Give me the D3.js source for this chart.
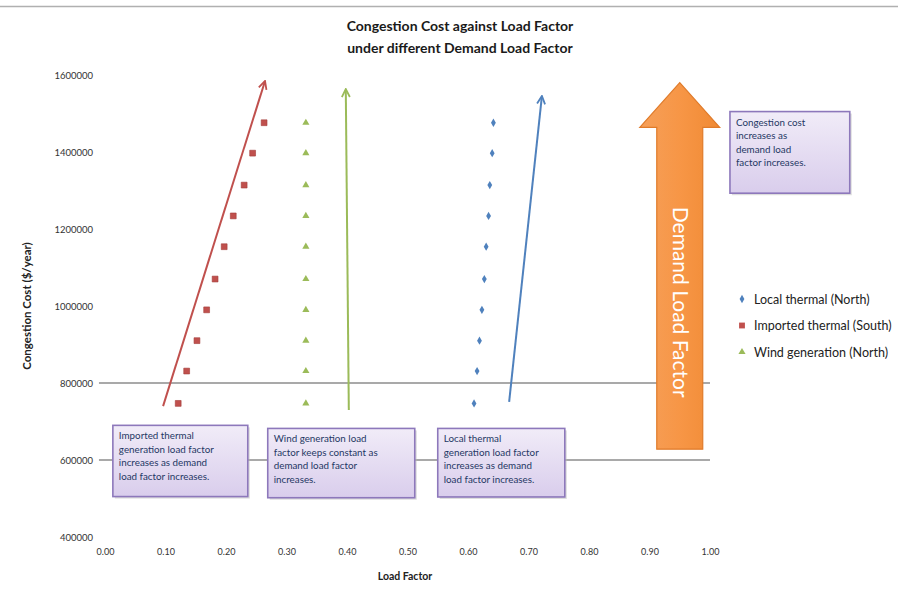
<!DOCTYPE html>
<html><head><meta charset="utf-8">
<script src="https://cdn.jsdelivr.net/npm/d3@7"></script>
<style>
body{margin:0;background:#fff;}
svg{display:block;font-family:Lato,"Open Sans",sans-serif;}
</style></head>
<body><svg id="c" width="898" height="592"></svg>
<script>
// ---- data ----
const titleLines = ["Congestion Cost against Load Factor", "under different Demand Load Factor"];
const xTicks = [0, 0.1, 0.2, 0.3, 0.4, 0.5, 0.6, 0.7, 0.8, 0.9, 1.0];
const yTicks = [400000, 600000, 800000, 1000000, 1200000, 1400000, 1600000];
const seriesNames = ["Local thermal (North)", "Imported thermal (South)", "Wind generation (North)"];
const congestionCost = [747000, 831000, 910000, 990000, 1070000, 1154000, 1234000, 1314000, 1397000, 1476000];
const localThermalLF = [0.610, 0.615, 0.619, 0.623, 0.627, 0.630, 0.634, 0.636, 0.640, 0.642];
const importedThermalLF = [0.121, 0.135, 0.152, 0.168, 0.182, 0.197, 0.212, 0.230, 0.244, 0.263];
const windLF = [0.332, 0.332, 0.332, 0.332, 0.332, 0.332, 0.332, 0.332, 0.332, 0.332];
// trend arrows [x0, y0, x1, y1] in data units
const trendArrows = [
  {series: 1, from: [0.096, 740000], to: [0.264, 1582000]},
  {series: 2, from: [0.403, 730000], to: [0.398, 1561000]},
  {series: 0, from: [0.668, 751000], to: [0.722, 1543000]}
];
const refLines = [800000, 600000];
const notes = [
  {x: 0.013, y: 690000, w: 0.223, h: 185000, lines: ["Imported thermal", "generation load factor", "increases as demand", "load factor increases."]},
  {x: 0.269, y: 682000, w: 0.243, h: 180000, lines: ["Wind generation load", "factor keeps constant as", "demand load factor", "increases."]},
  {x: 0.550, y: 682000, w: 0.210, h: 178000, lines: ["Local thermal", "generation load factor", "increases as demand", "load factor increases."]},
  {x: 1.033, y: 1505000, w: 0.198, h: 212000, lines: ["Congestion cost", "increases as", "demand load", "factor increases."]}
];
const bigArrow = {x: 0.950, half: 0.066, shaftHalf: 0.038, tip: 1580000, headBase: 1464000, bottom: 628000, label: "Demand Load Factor"};
const xTitle = "Load Factor";
const yTitle = "Congestion Cost ($/year)";
const colors = ["#4f81bd", "#c0504d", "#9bbb59"];

// ---- scales ----
const svg = d3.select("#c");
const x = d3.scaleLinear().domain([0, 1]).range([105, 710]);
const y = d3.scaleLinear().domain([400000, 1600000]).range([537, 75]);

// top border
svg.append("line").attr("x1", 0).attr("x2", 898).attr("y1", 6.5).attr("y2", 6.5)
  .attr("stroke", "#b0b0b0").attr("stroke-width", 1.5);

// title
svg.append("g").selectAll("text").data(titleLines).join("text")
  .attr("x", 460).attr("y", (d, i) => 31 + i * 22).attr("text-anchor", "middle")
  .attr("font-size", 14).attr("font-weight", "bold").attr("fill", "#1a1a1a").text(d => d);

// y axis
const yAxis = svg.append("g").attr("transform", "translate(95,0)")
  .call(d3.axisLeft(y).tickValues(yTicks).tickSize(0).tickPadding(2).tickFormat(d3.format("d")));
yAxis.select(".domain").remove();
yAxis.selectAll("text").attr("font-size", 9.5).attr("fill", "#333").attr("font-family", "Lato,sans-serif");

// x axis
const xAxis = svg.append("g").attr("transform", "translate(0,546)")
  .call(d3.axisBottom(x).tickValues(xTicks).tickSize(0).tickPadding(3).tickFormat(d3.format(".2f")));
xAxis.select(".domain").remove();
xAxis.selectAll("text").attr("font-size", 9).attr("fill", "#333").attr("font-family", "Lato,sans-serif");

// axis titles
svg.append("text").attr("x", 405).attr("y", 580).attr("text-anchor", "middle")
  .attr("font-size", 10.5).attr("font-weight", "bold").attr("fill", "#222").text(xTitle);
svg.append("text").attr("transform", `translate(31,${y(1000000)}) rotate(-90)`).attr("text-anchor", "middle")
  .attr("font-size", 11.5).attr("font-weight", "bold").attr("fill", "#222").text(yTitle);

// reference lines
svg.append("g").selectAll("line").data(refLines).join("line")
  .attr("x1", x(-0.01)).attr("x2", x(1.0)).attr("y1", d => y(d)).attr("y2", d => y(d))
  .attr("stroke", "#8c8c8c").attr("stroke-width", 1.6);

// defs: markers & gradients
const defs = svg.append("defs");
colors.forEach((c, i) => {
  defs.append("marker").attr("id", "ah" + i).attr("viewBox", "0 0 10 10").attr("refX", 8).attr("refY", 5)
    .attr("markerWidth", 5).attr("markerHeight", 5).attr("orient", "auto")
    .append("path").attr("d", "M1,1 L9,5 L1,9").attr("fill", "none").attr("stroke", c).attr("stroke-width", 1.8);
});
const g1 = defs.append("linearGradient").attr("id", "boxg").attr("x1", 0).attr("y1", 0).attr("x2", 0).attr("y2", 1);
g1.append("stop").attr("offset", "0%").attr("stop-color", "#f1ecf8");
g1.append("stop").attr("offset", "100%").attr("stop-color", "#d9cdec");
const g2 = defs.append("linearGradient").attr("id", "arrg").attr("x1", 0).attr("y1", 0).attr("x2", 1).attr("y2", 0);
g2.append("stop").attr("offset", "0%").attr("stop-color", "#f6a05a");
g2.append("stop").attr("offset", "50%").attr("stop-color", "#f79646");
g2.append("stop").attr("offset", "100%").attr("stop-color", "#f08a34");

// trend arrows
svg.append("g").selectAll("line").data(trendArrows).join("line")
  .attr("x1", d => x(d.from[0])).attr("y1", d => y(d.from[1]))
  .attr("x2", d => x(d.to[0])).attr("y2", d => y(d.to[1]))
  .attr("stroke", d => colors[d.series]).attr("stroke-width", 2)
  .attr("marker-end", d => `url(#ah${d.series})`);

// points
const sq = d3.symbol().type(d3.symbolSquare).size(34);
const tri = d3.symbol().type(d3.symbolTriangle).size(22);
const dia = d3.symbol().type(d3.symbolDiamond).size(20);
svg.append("g").selectAll("path").data(congestionCost).join("path")
  .attr("transform", (d, i) => `translate(${x(importedThermalLF[i])},${y(d)})`)
  .attr("d", sq).attr("fill", colors[1]).attr("stroke", "#a33c39").attr("stroke-width", 0.6);
svg.append("g").selectAll("path").data(congestionCost).join("path")
  .attr("transform", (d, i) => `translate(${x(windLF[i])},${y(d)})`)
  .attr("d", tri).attr("fill", colors[2]);
svg.append("g").selectAll("path").data(congestionCost).join("path")
  .attr("transform", (d, i) => `translate(${x(localThermalLF[i])},${y(d)})`)
  .attr("d", dia).attr("fill", colors[0]);

// note boxes
const nb = svg.append("g").selectAll("g").data(notes).join("g");
nb.append("rect").attr("x", d => x(d.x) + 2).attr("y", d => y(d.y) + 2)
  .attr("width", d => x(d.x + d.w) - x(d.x)).attr("height", d => y(d.y - d.h) - y(d.y))
  .attr("fill", "#bbb").attr("opacity", 0.5);
nb.append("rect").attr("x", d => x(d.x)).attr("y", d => y(d.y))
  .attr("width", d => x(d.x + d.w) - x(d.x)).attr("height", d => y(d.y - d.h) - y(d.y))
  .attr("fill", "url(#boxg)").attr("stroke", "#8d78bb").attr("stroke-width", 1.6);
nb.each(function(d) {
  d3.select(this).selectAll("text").data(d.lines).join("text")
    .attr("x", x(d.x) + 6).attr("y", (t, i) => y(d.y) + 14 + i * 13.5)
    .attr("font-size", 9.8).attr("fill", "#1f3864").text(t => t);
});

// big orange arrow
const ba = bigArrow;
const pts = [
  [x(ba.x), y(ba.tip)], [x(ba.x + ba.half), y(ba.headBase)], [x(ba.x + ba.shaftHalf), y(ba.headBase)],
  [x(ba.x + ba.shaftHalf), y(ba.bottom)], [x(ba.x - ba.shaftHalf), y(ba.bottom)],
  [x(ba.x - ba.shaftHalf), y(ba.headBase)], [x(ba.x - ba.half), y(ba.headBase)]
];
svg.append("path").attr("d", d3.line()(pts) + "Z").attr("fill", "url(#arrg)")
  .attr("stroke", "#e07b2a").attr("stroke-width", 1.2);
svg.append("text").attr("transform", `translate(${x(ba.x) - 7},${y(1010000)}) rotate(90)`)
  .attr("text-anchor", "middle").attr("font-size", 21).attr("fill", "#fff")
  .attr("font-family", "Lato,sans-serif").text(ba.label);

// legend
const lg = svg.append("g").attr("transform", "translate(742,299)");
const li = lg.selectAll("g").data(seriesNames).join("g").attr("transform", (d, i) => `translate(0,${i * 26.5})`);
li.append("path").attr("d", (d, i) => [dia, sq, tri][i]()).attr("fill", (d, i) => colors[i]);
li.append("text").attr("x", 12).attr("y", 4.5).attr("font-size", 12.5).attr("fill", "#222").text(d => d);
</script>
</body></html>
